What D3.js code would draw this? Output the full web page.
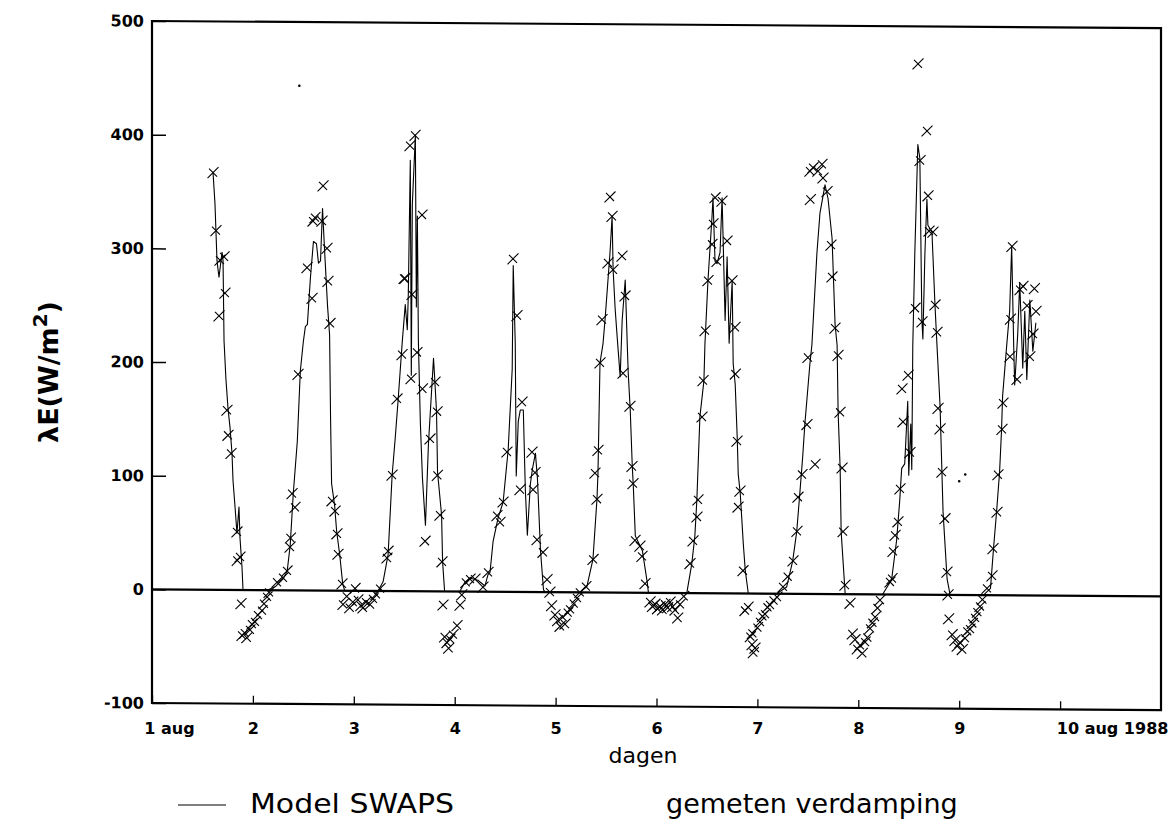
<!DOCTYPE html>
<html><head><meta charset="utf-8">
<script src="https://cdn.jsdelivr.net/npm/d3@7"></script>
<style>body{margin:0;background:#fff} svg{display:block}</style>
</head><body><svg id="c" width="1173" height="823"></svg>
<script>
// ---- data ----
const xTicks = [1,2,3,4,5,6,7,8,9,10];
const xTickLabels = ["1 aug","2","3","4","5","6","7","8","9","10 aug 1988"];
const yTicks = [-100,0,100,200,300,400,500];
const yTickLabels = ["-100","0","100","200","300","400","500"];

// Model SWAPS (day of August, W/m2)
const modelDays = [
1.605,1.624,1.644,1.654,1.664,1.694,1.704,1.714,1.733,1.753,1.773,1.793,1.803,1.823,1.842,1.862,1.872,1.892,1.902,
2.14,2.22,2.30,2.34,2.37,2.40,2.44,2.47,2.50,2.52,2.54,2.57,2.60,2.63,2.65,2.67,2.69,2.71,2.74,2.76,2.77,2.78,2.81,2.83,2.86,2.89,2.91,
3.24,3.29,3.34,3.38,3.41,3.44,3.48,3.51,3.53,3.54,3.56,3.57,3.58,3.61,3.62,3.63,3.64,3.66,3.68,3.71,3.74,3.79,3.80,3.82,3.83,3.87,3.88,3.90,
4.05,4.10,4.15,4.23,4.30,4.33,4.35,4.38,4.43,4.48,4.53,4.57,4.58,4.60,4.61,4.63,4.65,4.68,4.70,4.72,4.75,4.77,4.80,4.82,4.85,4.88,4.90,
5.24,5.31,5.37,5.41,5.42,5.44,5.47,5.49,5.54,5.56,5.57,5.59,5.61,5.64,5.66,5.69,5.71,5.72,5.74,5.76,5.77,5.79,5.86,5.91,5.92,
6.30,6.35,6.38,6.40,6.43,6.47,6.48,6.51,6.55,6.56,6.58,6.60,6.63,6.65,6.66,6.68,6.70,6.72,6.75,6.76,6.78,6.80,6.81,6.83,6.86,6.88,6.91,
7.19,7.29,7.35,7.39,7.42,7.45,7.47,7.52,7.54,7.59,7.62,7.67,7.70,7.74,7.77,7.79,7.80,7.82,7.83,7.87,
8.24,8.33,8.38,8.41,8.43,8.46,8.49,8.50,8.52,8.53,8.54,8.56,8.59,8.61,8.63,8.64,8.66,8.68,8.69,8.73,8.76,8.78,8.81,8.84,8.88,8.91,
9.24,9.31,9.34,9.37,9.40,9.42,9.43,9.47,9.50,9.52,9.54,9.55,9.58,9.60,9.63,9.65,9.67,9.70,9.73,9.76
];
const modelValues = [
367,340,290,282,275,297,290,219,185,160,143,120,96,73,50,73,46,20,0,
0,3,10,17,40,85,131,193,219,232,234,275,307,305,288,290,336,300,250,225,150,94,75,52,32,6,0,
0,8,32,102,134,169,219,252,230,260,379,190,340,401,250,330,220,147,100,58,130,205,190,158,105,67,26,0,
0,8,12,10,5,15,17,44,65,79,125,196,287,219,102,150,160,160,90,50,95,108,122,100,37,2,0,
0,5,29,82,105,202,219,240,300,331,284,250,225,190,240,275,219,193,160,111,94,50,37,8,0,
0,26,50,82,155,187,219,275,331,348,292,290,300,348,313,240,296,220,275,202,184,137,105,88,44,20,0,
0,6,29,55,88,122,149,202,219,300,335,360,348,313,237,219,160,111,55,0,
0,13,48,82,111,115,170,105,150,110,219,300,396,384,242,225,300,348,325,319,255,219,167,73,14,0,
0,6,41,73,108,146,175,219,250,307,220,185,230,275,200,250,190,260,215,240
];

// gemeten verdamping (measured)
const measDays = [
1.605,1.634,1.674,1.714,1.723,1.664,1.743,1.753,1.783,1.842,1.845,1.872,1.882,
1.892,1.92,1.94,1.971,1.99,2.021,2.05,2.09,2.11,2.14,2.16,
2.239,2.298,2.338,2.368,2.372,2.417,2.388,2.447,2.536,2.586,2.596,2.615,2.685,2.695,2.734,2.744,2.764,2.784,2.814,2.833,2.843,2.883,
2.893,2.93,2.96,2.99,3.012,3.04,3.07,3.091,3.12,3.161,3.19,3.22,3.26,
3.329,3.339,3.379,3.428,3.478,3.498,3.507,3.557,3.607,3.676,3.577,3.567,3.626,3.680,3.755,3.805,3.825,3.828,3.854,3.874,3.706,
3.884,3.90,3.924,3.94,3.953,3.983,4.023,4.053,4.07,
4.11,4.152,4.201,4.28,4.33,4.419,4.449,4.479,4.518,4.578,4.617,4.667,4.647,4.766,4.796,4.776,4.816,4.875,4.915,4.944,
4.96,4.994,5.02,5.044,5.07,5.093,5.12,5.143,5.18,5.212,5.24,
5.30,5.371,5.41,5.39,5.42,5.44,5.46,5.519,5.539,5.559,5.569,5.658,5.688,5.668,5.737,5.757,5.767,5.787,5.836,5.856,5.886,
5.936,5.96,5.985,6.01,6.035,6.06,6.084,6.11,6.134,6.16,6.184,6.21,6.233,6.27,
6.332,6.362,6.401,6.411,6.451,6.461,6.481,6.51,6.55,6.56,6.58,6.60,6.649,6.699,6.748,6.778,6.781,6.798,6.827,6.808,6.857,6.877,
6.907,6.93,6.947,6.96,6.976,6.95,7.00,7.026,7.05,7.075,7.10,7.125,7.16,7.194,
7.254,7.30,7.353,7.392,7.402,7.442,7.491,7.571,7.501,7.521,7.551,7.60,7.64,7.65,7.69,7.525,7.729,7.739,7.769,7.799,7.819,7.839,7.849,7.868,
7.918,7.94,7.967,7.99,8.017,8.04,8.067,8.09,8.116,8.14,8.166,8.19,8.215,
8.314,8.334,8.344,8.364,8.393,8.413,8.433,8.443,8.493,8.512,8.562,8.592,8.612,8.631,8.681,8.691,8.701,8.74,8.76,8.78,8.79,8.81,8.829,8.859,8.879,8.889,8.895,
8.93,8.958,8.98,9.008,9.03,9.057,9.08,9.107,9.13,9.157,9.18,9.206,9.23,
9.275,9.325,9.335,9.375,9.384,9.424,9.434,9.503,9.573,9.523,9.508,9.603,9.632,9.672,9.70,9.731,9.761,9.745
];
const measValues = [
367,316,290,293,261,241,158,136,120,51,26,29,-12,
-40,-38,-42,-35,-30,-28,-22,-18,-12,-6,-2,
7,11,17,38,46,73,85,190,284,257,325,328,325,356,301,272,235,79,70,50,32,6,
-12,-5,-15,-10,2,-8,-13,-15,-10,-12,-7,-3,2,
29,35,102,169,208,275,275,392,401,331,261,187,210,178,134,184,158,102,67,26,44,
-12,-40,-45,-50,-42,-38,-30,-12,-3,
8,11,11,4,17,67,61,79,123,293,243,167,90,123,105,90,46,35,11,0,
-12,-20,-25,-30,-22,-28,-18,-15,-10,-5,0,
5,29,82,105,125,202,240,290,348,331,284,296,261,193,164,111,96,46,41,32,8,
-8,-12,-10,-14,-12,-15,-10,-13,-8,-12,-15,-22,-10,-3,
26,46,67,82,155,187,231,275,307,325,348,292,345,310,275,234,193,134,90,76,20,-15,
-12,-38,-45,-52,-48,-35,-30,-25,-20,-18,-12,-10,-6,-3,
6,15,29,55,85,105,149,114,208,372,375,372,378,366,354,347,307,279,234,210,160,111,55,8,
-8,-35,-40,-48,-45,-52,-42,-38,-30,-25,-20,-12,-5,
11,14,38,52,64,93,181,152,193,125,252,467,382,240,408,351,320,319,255,231,164,146,108,67,20,0,-21,
-35,-40,-45,-42,-48,-38,-32,-30,-25,-20,-15,-10,-4,
6,17,41,73,106,146,169,210,190,307,243,269,272,255,210,230,250,270
];
// isolated faint points
const dotDays = [2.46, 9.00, 9.06];
const dotValues = [444, 100, 106];

// ---- chart ----
const svg = d3.select("#c");
svg.append("rect").attr("width",1173).attr("height",823).attr("fill","#fff");
const x = d3.scaleLinear().domain([1,11]).range([152,1161]);
const y = d3.scaleLinear().domain([-100,500]).range([703,21]);
const FONT = "'DejaVu Sans', sans-serif";

const plot = svg.append("g").attr("transform","translate(152,0) skewY(0.4) translate(-152,0)");

// frame
plot.append("rect")
  .attr("x",x(1)).attr("y",y(500))
  .attr("width",x(11)-x(1)).attr("height",y(-100)-y(500))
  .attr("fill","none").attr("stroke","#000").attr("stroke-width",2.2);

// y axis (ticks inward)
const gy = plot.append("g").attr("transform",`translate(${x(1)},0)`)
  .call(d3.axisLeft(y).tickValues(yTicks).tickSizeInner(-14).tickSizeOuter(0).tickPadding(8)
        .tickFormat((d,i)=>yTickLabels[i]));
gy.select(".domain").remove();
gy.selectAll("line").attr("stroke","#000").attr("stroke-width",1.5);
gy.selectAll("text").attr("font-family",FONT).attr("font-weight","bold").attr("font-size",16).attr("fill","#000");

// x axis tick marks (inward)
const gxt = plot.append("g").attr("transform",`translate(0,${y(-100)})`)
  .call(d3.axisBottom(x).tickValues(xTicks).tickSizeInner(-8).tickSizeOuter(0).tickFormat(""));
gxt.select(".domain").remove();
gxt.selectAll("line").attr("stroke","#000").attr("stroke-width",1.3);

// zero line
plot.append("line")
  .attr("x1",x(1)).attr("x2",x(11)).attr("y1",y(0)).attr("y2",y(0))
  .attr("stroke","#000").attr("stroke-width",2.2);

// model line
const modelPts = modelDays.map((d,i)=>[d, modelValues[i]]);
plot.append("path").datum(modelPts)
  .attr("d", d3.line().x(d=>x(d[0])).y(d=>y(d[1])))
  .attr("fill","none").attr("stroke","#000").attr("stroke-width",1.1).attr("stroke-linejoin","round");

// measured crosses
const measPts = measDays.map((d,i)=>[d, measValues[i]]);
plot.append("g").selectAll("path").data(measPts).join("path")
  .attr("transform", d=>`translate(${x(d[0])},${y(d[1])})`)
  .attr("d","M-5.5,5.5L5.5,-5.5M-4,-4L4,4")
  .attr("fill","none").attr("stroke","#000").attr("stroke-width",1.1);

plot.append("g").selectAll("circle").data(dotDays.map((d,i)=>[d,dotValues[i]])).join("circle")
  .attr("cx",d=>x(d[0])).attr("cy",d=>y(d[1])).attr("r",1.3).attr("fill","#000");

// x labels (not skewed)
const gxl = svg.append("g").attr("transform",`translate(0,${y(-100)})`)
  .call(d3.axisBottom(x).tickValues(xTicks).tickSize(0).tickPadding(20)
        .tickFormat((d,i)=>xTickLabels[i]));
gxl.select(".domain").remove();
gxl.selectAll("text").attr("font-family",FONT).attr("font-weight","bold").attr("font-size",16).attr("fill","#000")
  .attr("dx",(d,i)=> i===0 ? 17 : (i===xTicks.length-1 ? 52 : 0));

// axis titles
svg.append("text").attr("x",643).attr("y",763).attr("text-anchor","middle")
  .attr("font-family",FONT).attr("font-size",22).attr("fill","#000").text("dagen");

const yt = svg.append("text").attr("transform","translate(58,372) rotate(-90)")
  .attr("text-anchor","middle").attr("font-family",FONT).attr("font-weight","bold")
  .attr("font-size",27).attr("fill","#000");
yt.append("tspan").text("λE(W/m");
yt.append("tspan").attr("dy",-11).attr("font-size",20).text("2");
yt.append("tspan").attr("dy",11).text(")");

// legend
svg.append("line").attr("x1",178).attr("x2",226).attr("y1",805).attr("y2",805)
  .attr("stroke","#000").attr("stroke-width",1.2);
svg.append("text").attr("x",250).attr("y",813).attr("font-family",FONT).attr("font-size",27)
  .attr("textLength",204).attr("lengthAdjust","spacingAndGlyphs")
  .attr("fill","#000").text("Model SWAPS");
svg.append("text").attr("x",666).attr("y",813).attr("font-family",FONT).attr("font-size",27)
  .attr("fill","#000").text("gemeten verdamping");
</script></body></html>
